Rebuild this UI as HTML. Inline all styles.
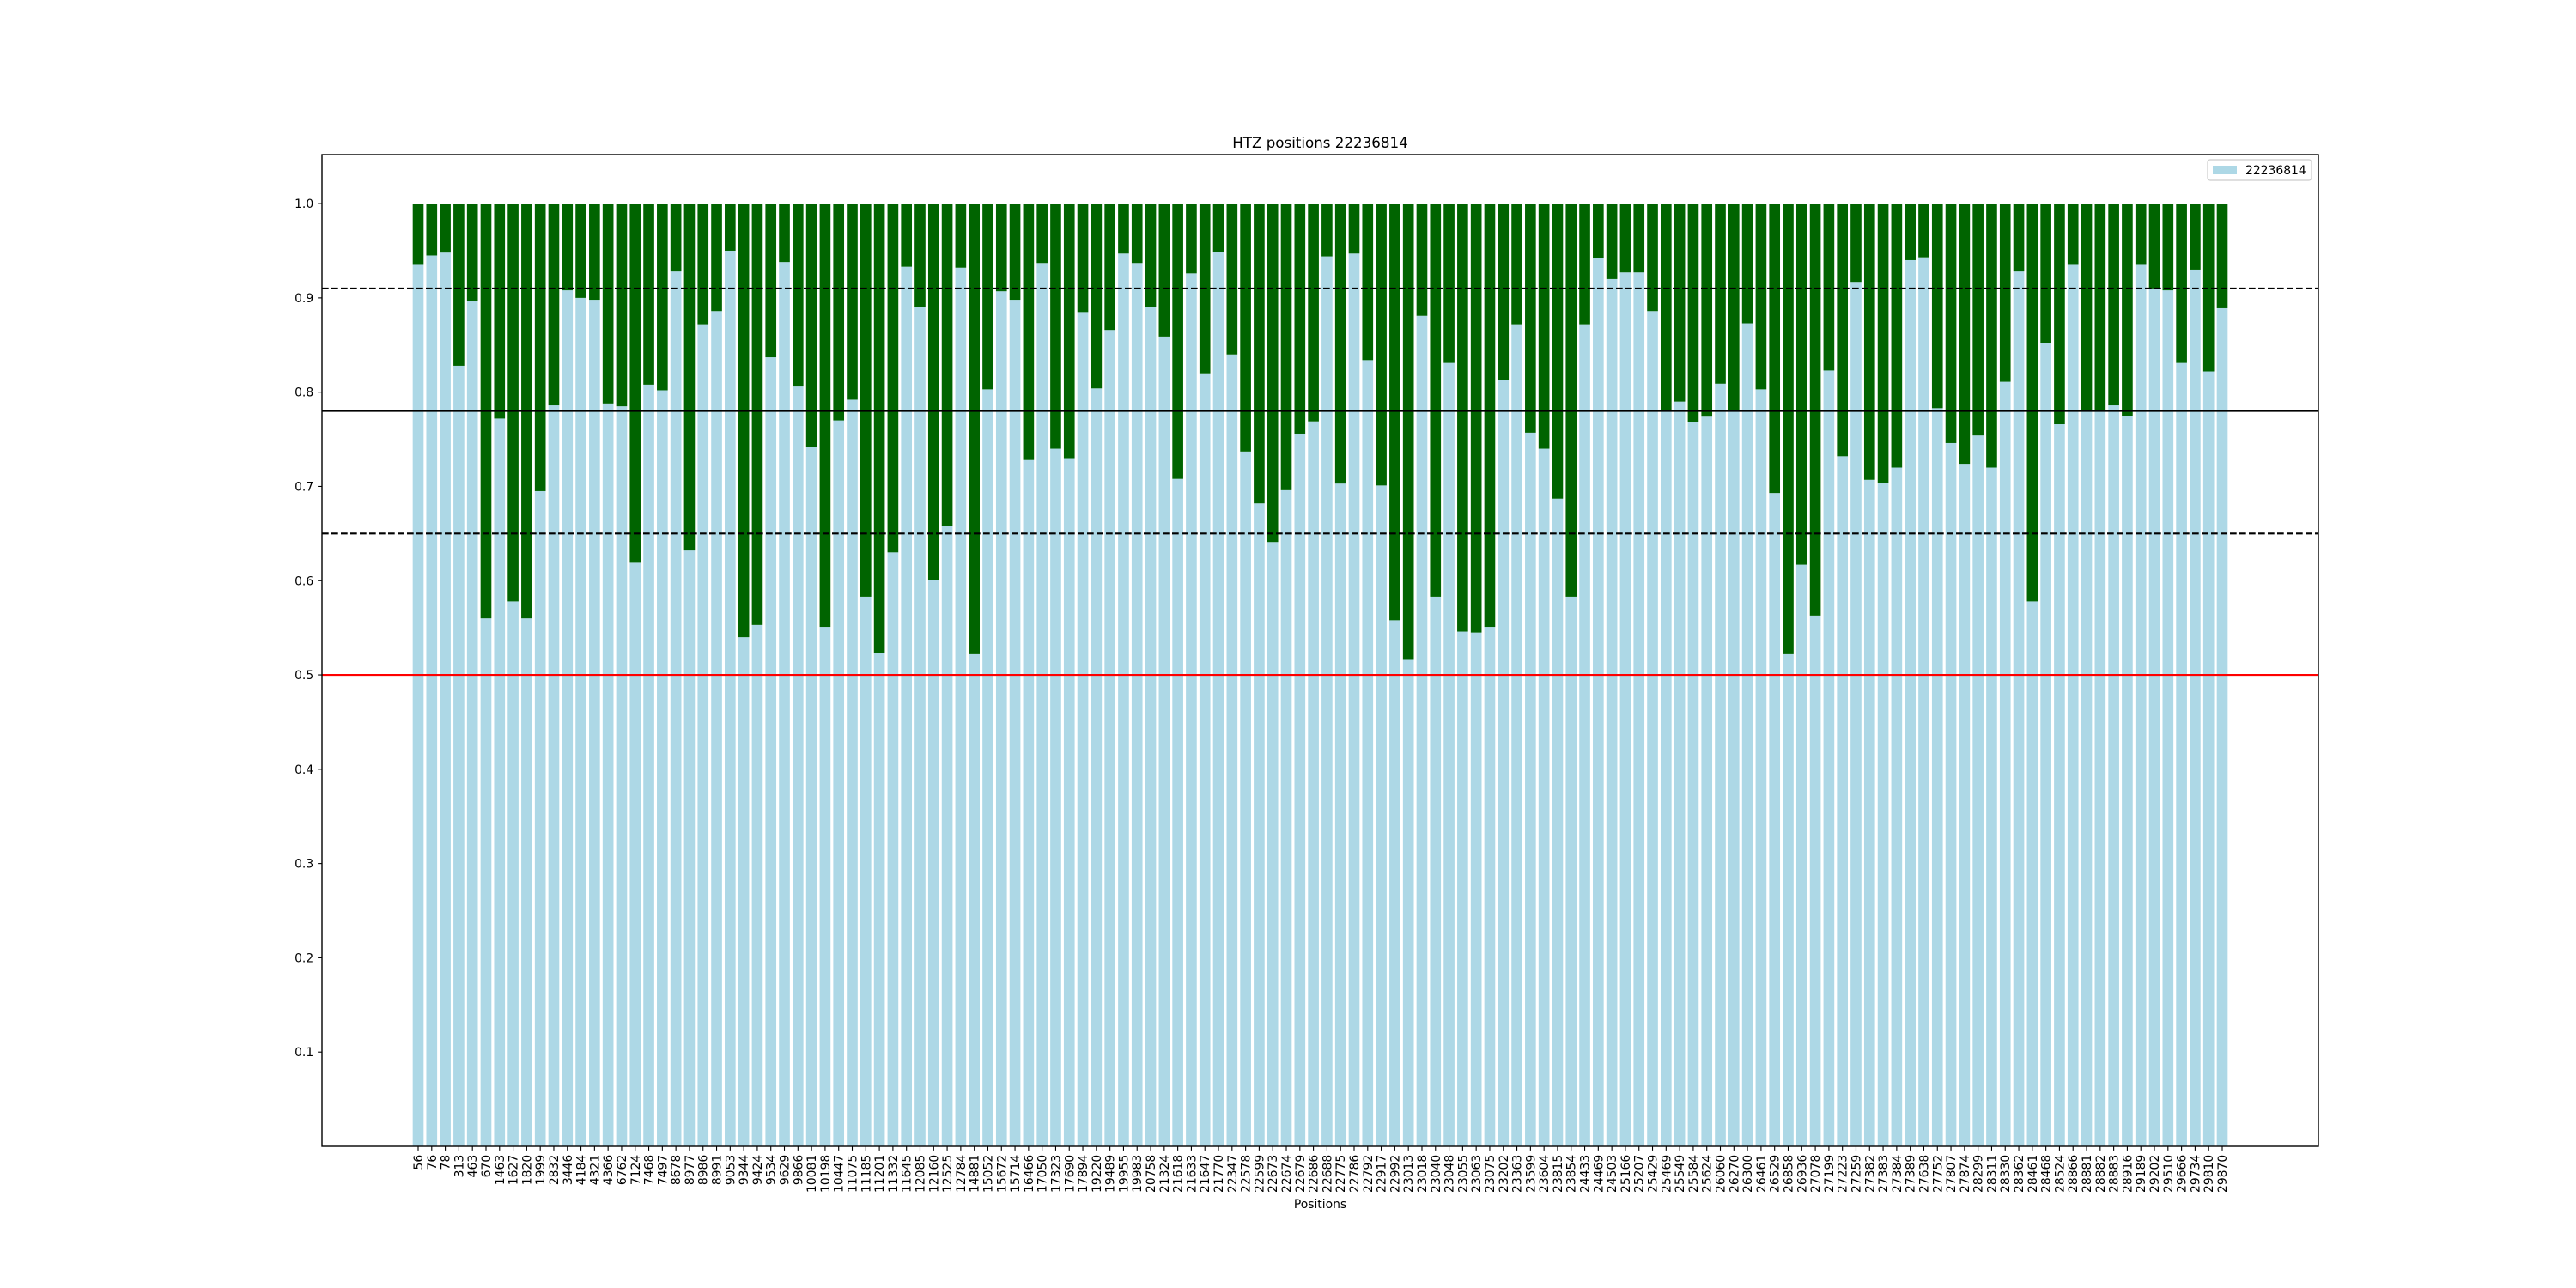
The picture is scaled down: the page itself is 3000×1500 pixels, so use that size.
<!DOCTYPE html>
<html><head><meta charset="utf-8"><style>
html,body{margin:0;padding:0;background:#fff}
svg{display:block;font-family:"DejaVu Sans","Liberation Sans",sans-serif}
</style></head><body>
<svg id="chart" width="3000" height="1500" viewBox="0 0 3000 1500">
<rect width="3000" height="1500" fill="#fff"/>
<g id="bars"></g>
<g id="lines"></g>
<g id="xt"></g>
<g id="yt"></g>
<rect x="375" y="180" width="2325" height="1155" fill="none" stroke="#000" stroke-width="1.4"/>
<text x="1537.5" y="172" text-anchor="middle" font-size="16.7">HTZ positions 22236814</text>
<text x="1537.5" y="1407" text-anchor="middle" font-size="13.9">Positions</text>
<g>
<rect x="2571" y="186" width="121" height="24" rx="3" fill="#fff" fill-opacity="0.8" stroke="#ccc" stroke-width="1.2"/>
<rect x="2577" y="193" width="28" height="10" fill="#add8e6"/>
<text x="2615" y="203" font-size="13.9">22236814</text>
</g>
</svg>
<script>
const categories=[56,76,78,313,463,670,1463,1627,1820,1999,2832,3446,4184,4321,4366,6762,7124,7468,7497,8678,8977,8986,8991,9053,9344,9424,9534,9629,9866,10081,10198,10447,11075,11185,11201,11332,11645,12085,12160,12525,12784,14881,15052,15672,15714,16466,17050,17323,17690,17894,19220,19489,19955,19983,20758,21324,21618,21633,21647,21770,22347,22578,22599,22673,22674,22679,22686,22688,22775,22786,22792,22917,22992,23013,23018,23040,23048,23055,23063,23075,23202,23363,23599,23604,23815,23854,24433,24469,24503,25166,25207,25429,25469,25549,25584,25624,26060,26270,26300,26461,26529,26858,26936,27078,27199,27223,27259,27382,27383,27384,27389,27638,27752,27807,27874,28299,28311,28330,28362,28461,28468,28524,28866,28881,28882,28883,28916,29189,29202,29510,29666,29734,29810,29870];
const values=[0.935,0.945,0.948,0.828,0.897,0.56,0.772,0.578,0.56,0.695,0.786,0.908,0.9,0.898,0.788,0.785,0.619,0.808,0.802,0.928,0.632,0.872,0.886,0.95,0.54,0.553,0.837,0.938,0.806,0.742,0.551,0.77,0.792,0.583,0.523,0.63,0.933,0.89,0.601,0.658,0.932,0.522,0.803,0.907,0.898,0.728,0.937,0.74,0.73,0.885,0.804,0.866,0.947,0.937,0.89,0.859,0.708,0.926,0.82,0.949,0.84,0.737,0.682,0.641,0.696,0.756,0.769,0.944,0.703,0.947,0.834,0.701,0.558,0.516,0.881,0.583,0.831,0.546,0.545,0.551,0.813,0.872,0.757,0.74,0.687,0.583,0.872,0.942,0.92,0.927,0.927,0.886,0.78,0.79,0.768,0.774,0.809,0.78,0.873,0.803,0.693,0.522,0.617,0.563,0.823,0.732,0.917,0.707,0.704,0.72,0.94,0.943,0.783,0.746,0.724,0.754,0.72,0.811,0.928,0.578,0.852,0.766,0.935,0.78,0.78,0.786,0.775,0.935,0.91,0.908,0.831,0.93,0.822,0.889];
const yTicks=[0.1,0.2,0.3,0.4,0.5,0.6,0.7,0.8,0.9,1.0];
const thresholds=[0.91,0.78,0.65,0.5];
const thresholdStyles=["dash","solid","dash","red"];
const NS="http://www.w3.org/2000/svg";
const L=375,R=2700,T=180,B=1335;
const n=categories.length;
const span=(n-1)+0.8, m=span*0.05;
const x0=-0.4-m, x1=n-1+0.4+m;
const xs=i=>L+(i-x0)/(x1-x0)*(R-L);
const ys=v=>B-v/1.052*(B-T);
const bw=0.8*(R-L)/(x1-x0);
function mk(tag,attrs,parent){const e=document.createElementNS(NS,tag);for(const k in attrs)e.setAttribute(k,attrs[k]);parent.appendChild(e);return e;}
const gb=document.getElementById('bars'),gx=document.getElementById('xt'),gy=document.getElementById('yt'),gl=document.getElementById('lines');
values.forEach((v,i)=>{
  const cx=xs(i);
  const b=mk('rect',{x:cx-bw/2,y:ys(v),width:bw,height:ys(0)-ys(v),fill:'#add8e6'},gb);
  
  
  const g=mk('rect',{x:cx-bw/2,y:ys(1),width:bw,height:ys(v)-ys(1),fill:'#006400'},gb);
  
  
  const t=mk('line',{x1:cx,x2:cx,y1:B,y2:B+4.9,stroke:'#000','stroke-width':1.1},gx);
  
  
  const tx=mk('text',{x:0,y:0,'font-size':13.9,'text-anchor':'end',transform:`translate(${cx+5},${B+9.8}) rotate(-90)`},gx);
  tx.textContent=categories[i];
  
  
});
yTicks.forEach(v=>{
  const y=ys(v);
  const t=mk('line',{x1:L-4.9,x2:L,y1:y,y2:y,stroke:'#000','stroke-width':1.1},gy);
  
  
  const tx=mk('text',{x:L-9.8,y:y+5,'font-size':13.9,'text-anchor':'end'},gy);
  tx.textContent=v.toFixed(1);
  
  
});
thresholds.forEach((v,i)=>{
  const s=thresholdStyles[i];
  const a={x1:L,x2:R,y1:ys(v),y2:ys(v),stroke:s==='red'?'#ff0000':'#000','stroke-width':2.1};
  if(s==='dash')a['stroke-dasharray']='7.7,3.3';
  const l=mk('line',a,gl);
  
  
});
</script>
</body></html>
